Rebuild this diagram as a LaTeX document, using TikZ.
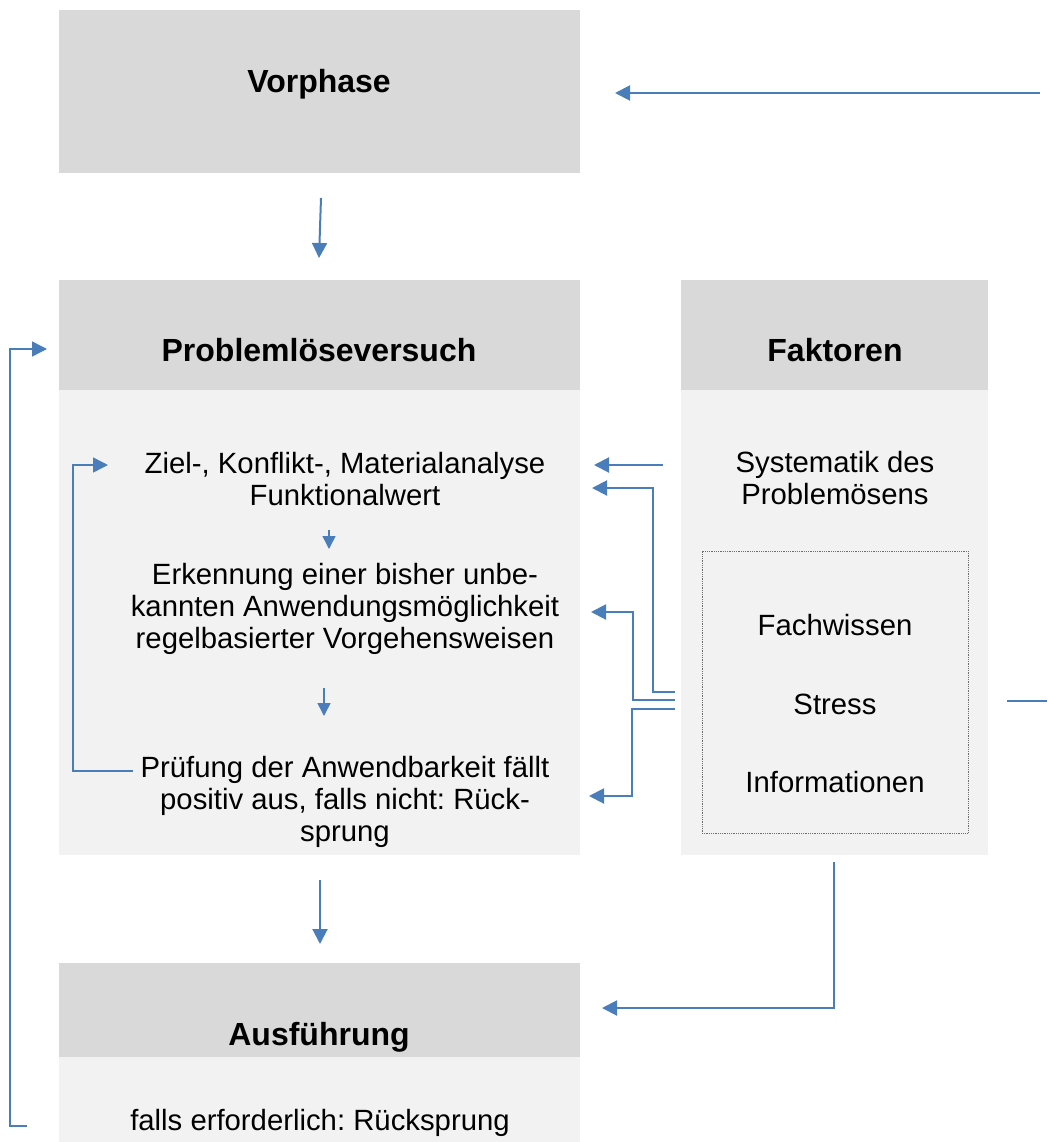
\documentclass[tikz,border=0pt]{standalone}
\usepackage{fontspec}
\setmainfont{Liberation Sans}
\usetikzlibrary{arrows.meta}
\frenchspacing
\definecolor{hdrgray}{RGB}{217,217,217}
\definecolor{bodygray}{RGB}{242,242,242}
\definecolor{linkblue}{RGB}{74,126,187}
\definecolor{dotgray}{RGB}{110,110,110}
\tikzset{
  hdr/.style={fill=hdrgray, draw=none, inner sep=0pt, outer sep=0pt},
  panel/.style={fill=bodygray, draw=none, inner sep=0pt, outer sep=0pt},
  title/.style={font=\fontsize{32}{36}\selectfont\bfseries, inner sep=0pt},
  body/.style={font=\fontsize{29.3}{32}\selectfont, align=center, inner sep=0pt},
  conn/.style={draw=linkblue, line width=2pt, -{Triangle[length=15pt,width=15pt]}},
  plain/.style={draw=linkblue, line width=2pt},
  thinconn/.style={draw=linkblue, line width=1.5pt, -{Triangle[length=13pt,width=13pt]}},
  loopconn/.style={draw=linkblue, line width=1.5pt, -{Triangle[length=15pt,width=15pt]}},
}
\begin{document}
\begin{tikzpicture}[x=1pt,y=-1pt]
\useasboundingbox (0,0) rectangle (1047,1142);

% boxes
\node[hdr, minimum width=521pt, minimum height=163pt] (vor) at (319.5,91.5) {};
\node[hdr, minimum width=521pt, minimum height=110pt] (plh) at (319.5,335) {};
\node[panel, minimum width=521pt, minimum height=465pt] (plb) at (319.5,622.5) {};
\node[hdr, minimum width=307pt, minimum height=110pt] (fah) at (834.5,335) {};
\node[panel, minimum width=307pt, minimum height=465pt] (fab) at (834.5,622.5) {};
\node[hdr, minimum width=521pt, minimum height=94pt] (auh) at (319.5,1010) {};
\node[panel, minimum width=521pt, minimum height=85pt] (aub) at (319.5,1099.5) {};
\node[draw=dotgray, densely dotted, line width=0.8pt, minimum width=266pt, minimum height=282pt, inner sep=0pt] (dot) at (835,692) {};

% titles
\node[title] (tvor) at (319,84) {Vorphase};
\node[title] (tplh) at (319,350) {Problemlöseversuch};
\node[title] (tfah) at (835,350) {Faktoren};
\node[title] (tauh) at (319,1037) {Ausführung};

% body texts
\node[body] (s1) at (345,479) {Ziel-, Konflikt-, Materialanalyse\\Funktionalwert};
\node[body] (s2) at (345,609) {Erkennung einer bisher unbe-\\kannten Anwendungsmöglichkeit\\regelbasierter Vorgehensweisen};
\node[body] (s3) at (345,802) {Prüfung der Anwendbarkeit fällt\\positiv aus, falls nicht: Rück-\\sprung};
\node[body] (f0) at (835,478) {Systematik des\\Problemösens};
\node[body] (f1) at (835,625) {Fachwissen};
\node[body] (f2) at (835,704) {Stress};
\node[body] (f3) at (835,782) {Informationen};
\node[body] (a1) at (320,1123) {falls erforderlich: Rücksprung};

% connector end points
\coordinate (topin) at (1040,93);
\coordinate (topout) at (615,93);
\coordinate (v1) at (321,198);
\coordinate (v2) at (319,258);
\coordinate (p1) at (320,880);
\coordinate (p2) at (320,944);
\coordinate (k1) at (329,530);
\coordinate (k2) at (329,549);
\coordinate (k3) at (324,688);
\coordinate (k4) at (324,716);
\coordinate (la) at (133,771);
\coordinate (lb) at (108,465);
\coordinate (ga) at (27,1126);
\coordinate (gb) at (47,349);
\coordinate (r0a) at (663,465);
\coordinate (r0b) at (594,465);
\coordinate (r1a) at (675,692);
\coordinate (r1b) at (592,488);
\coordinate (r2a) at (675,700);
\coordinate (r2b) at (591,612);
\coordinate (r3a) at (675,709);
\coordinate (r3b) at (589,796);
\coordinate (sa) at (1007,701);
\coordinate (sb) at (1047,701);
\coordinate (fa) at (834,862);
\coordinate (fb) at (602,1008);

% connectors
\draw[conn] (topin) -- (topout);
\draw[conn] (v1) -- (v2);
\draw[conn] (p1) -- (p2);
\draw[thinconn] (k1) -- (k2);
\draw[thinconn] (k3) -- (k4);
\draw[loopconn] (la) -- (73,771) -- (73,465) -- (lb);
\draw[loopconn] (ga) -- (10,1126) -- (10,349) -- (gb);
\draw[conn] (r0a) -- (r0b);
\draw[conn] (r1a) -- (653,692) -- (653,488) -- (r1b);
\draw[conn] (r2a) -- (633,700) -- (633,612) -- (r2b);
\draw[conn] (r3a) -- (632,709) -- (632,796) -- (r3b);
\draw[plain] (sa) -- (sb);
\draw[conn] (fa) -- (834,1008) -- (fb);
\end{tikzpicture}
\end{document}
